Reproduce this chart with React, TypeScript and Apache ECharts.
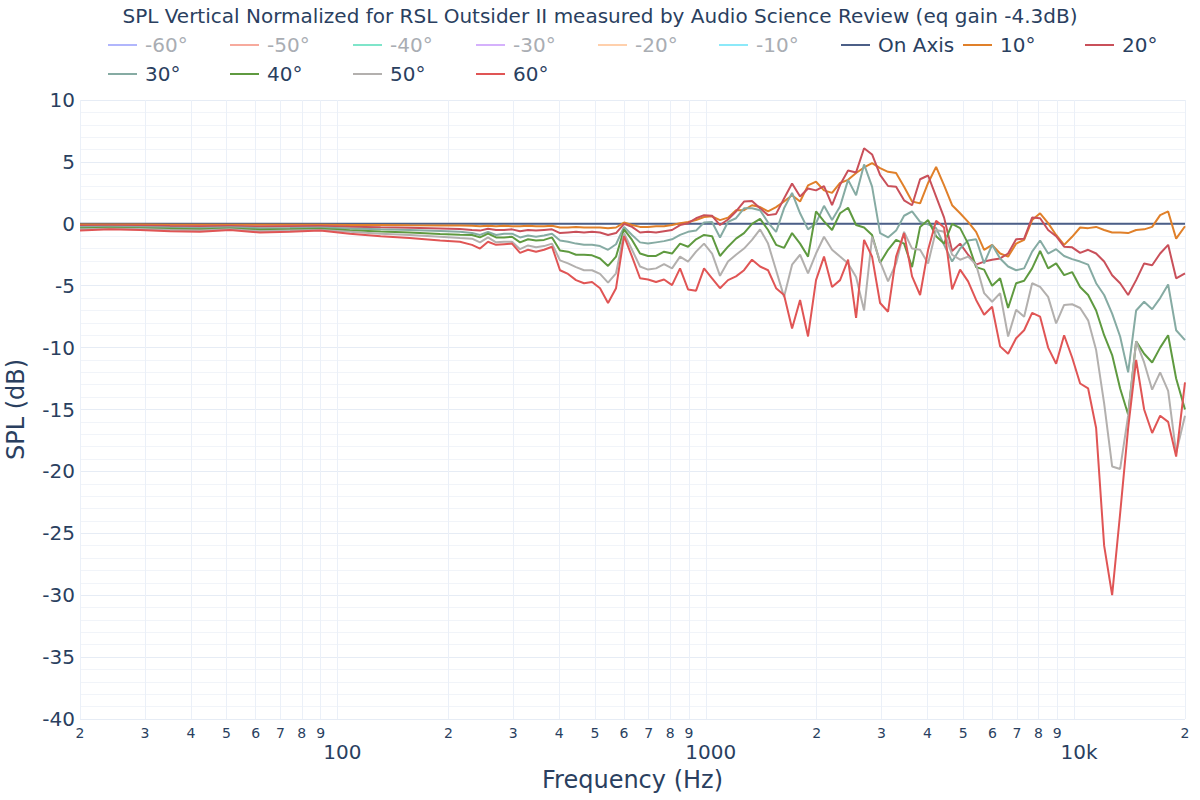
import React, { useEffect, useRef } from "react";
import * as echarts from "echarts";

const FONT = '"DejaVu Sans", Verdana, sans-serif';
const TEXT = "#2a3f5f";

const TITLE = "SPL Vertical Normalized for RSL Outsider II measured by Audio Science Review (eq gain -4.3dB)";

const FREQ = [
  20, 24.1, 29.1, 35.1, 42.3, 51.1, 61.6, 74.3, 89.7, 108, 131, 157, 190, 215,
  231.9, 243.8, 256.3, 269.5, 283.3, 297.8, 313.1, 329.2, 346.0, 363.8,
  382.4, 402.0, 422.7, 444.3, 467.1, 491.1, 516.3, 542.8, 570.6, 599.9,
  630.6, 663.0, 697.0, 732.7, 770.3, 809.8, 851.4, 895.1, 941.0, 989.2,
  1040, 1093, 1149, 1208, 1270, 1335, 1404, 1476, 1552, 1631,
  1715, 1803, 1895, 1992, 2094, 2202, 2315, 2434, 2559, 2690,
  2828, 2973, 3125, 3286, 3454, 3631, 3818, 4014, 4220, 4436,
  4664, 4903, 5154, 5419, 5697, 5989, 6296, 6619, 6959, 7316,
  7691, 8085, 8500, 8936, 9394, 9876, 10383, 10915, 11475, 12064,
  12683, 13333, 14017, 14736, 15492, 16287, 17122, 18000, 18923, 20000,
];

const ON_AXIS_FREQ = [20, 20000];
const ON_AXIS = [0, 0];

const SPL_10 = [
  -0.05, -0.05, -0.06, -0.07, -0.08, -0.07, -0.08, -0.08, -0.07, -0.09, -0.1, -0.12, -0.13, -0.14,
  -0.15, -0.2, -0.15, -0.2, -0.15, -0.2, -0.2, -0.15, -0.2, -0.2,
  -0.15, -0.3, -0.3, -0.25, -0.3, -0.3, -0.3, -0.35, -0.3, 0.1,
  -0.1, -0.25, -0.25, -0.2, -0.2, -0.1, 0.05, 0.15, 0.3, 0.55,
  0.6, 0.3, 0.5, 1.1, 1.1, 1.5, 1.35, 1.0, 1.35, 1.8,
  2.3, 1.8, 3.1, 3.4, 2.7, 2.5, 3.3, 3.55, 4.1, 4.55,
  4.9, 4.5, 4.2, 4.1, 3.0, 1.8, 1.65, 3.3, 4.6, 3.1,
  1.5, 0.85, 0.15, -0.65, -2.1, -1.7, -2.4, -2.65, -1.6, -1.3,
  0.3, 0.85, 0.05, -0.9, -1.7, -1.05, -0.3, -0.35, -0.25, -0.5,
  -0.7, -0.7, -0.75, -0.5, -0.45, -0.25, 0.7, 1.0, -1.2, -0.2,
];

const SPL_20 = [
  -0.15, -0.14, -0.15, -0.18, -0.2, -0.17, -0.22, -0.2, -0.18, -0.23, -0.28, -0.32, -0.38, -0.42,
  -0.5, -0.55, -0.4, -0.5, -0.5, -0.45, -0.6, -0.5, -0.55, -0.5,
  -0.45, -0.75, -0.7, -0.65, -0.7, -0.65, -0.7, -0.9, -0.75, 0.0,
  -0.25, -0.7, -0.65, -0.7, -0.6, -0.5, -0.1, 0.05, 0.45, 0.7,
  0.65, -0.1, 0.35, 1.0, 1.8, 1.85, 1.25, 0.7, 0.8, 2.05,
  3.25, 2.2, 2.85, 2.7, 3.05, 1.5, 3.15, 4.3, 4.15, 6.1,
  5.6, 3.95, 3.05, 3.0, 1.9, 1.5, 3.6, 3.9, 2.2, 0.5,
  -2.2, -1.6, -2.5, -3.3, -3.05, -2.9, -2.8, -2.4, -1.25, -1.2,
  0.5, 0.45, -0.5, -1.0, -1.85, -1.9, -2.35, -2.1, -2.4, -3.05,
  -4.15, -4.8, -5.75, -4.55, -3.2, -3.35, -2.4, -1.7, -4.4, -4.0,
];

const SPL_30 = [
  -0.25, -0.23, -0.25, -0.3, -0.33, -0.28, -0.35, -0.33, -0.3, -0.38, -0.45, -0.5, -0.58, -0.65,
  -0.75, -0.9, -0.65, -0.9, -0.8, -0.8, -1.1, -0.95, -1.05, -0.95,
  -0.8, -1.35, -1.45, -1.6, -1.7, -1.7, -1.8, -2.1, -1.65, -0.25,
  -0.9, -1.5, -1.6, -1.5, -1.4, -1.25, -0.9, -0.65, -0.55, 0.1,
  0.15, -1.1, 0.15, 0.45, 1.25, 1.25, 1.1, 0.1, -0.65, 1.25,
  2.5, 0.85, -0.45, 0.05, 1.45, 0.3, 1.4, 3.55, 2.3, 4.8,
  3.0, -0.75, -1.1, -0.55, 0.65, 1.0, 0.15, -0.05, -0.35, -1.7,
  -3.05, -2.0, -1.35, -1.25, -3.2, -1.7, -2.8, -3.45, -3.75, -3.6,
  -2.25, -1.35, -2.4, -2.05, -2.6, -2.85, -3.05, -3.3, -4.8, -5.75,
  -7.25, -9.1, -12.0, -7.0, -6.3, -6.9, -6.0, -4.9, -8.6, -9.4,
];

const SPL_40 = [
  -0.35, -0.32, -0.35, -0.4, -0.45, -0.38, -0.48, -0.45, -0.4, -0.52, -0.62, -0.7, -0.82, -0.88,
  -0.9, -1.1, -0.8, -1.1, -1.1, -1.05, -1.5, -1.25, -1.35, -1.3,
  -1.1, -2.15, -2.25, -2.5, -2.5, -2.55, -2.8, -3.4, -2.65, -0.45,
  -1.3, -2.4, -2.6, -2.6, -2.25, -2.4, -1.6, -1.85, -1.25, -0.9,
  -1.0, -2.6, -1.85, -1.2, -0.75, 0.0, 0.4, -0.5, -1.7, -1.95,
  -0.75, -1.6, -2.65, 1.0, 0.2, -0.5, 0.85, 1.3, -0.1, -0.3,
  -0.9, -3.15, -2.1, -1.3, -1.6, -3.5, -0.25, 0.3, -1.0, -1.6,
  0.0, -0.35, -1.6, -3.5, -3.7, -5.0, -4.4, -6.8, -4.8, -4.6,
  -3.6, -2.2, -3.6, -3.2, -4.15, -3.9, -5.1, -5.75, -7.0, -9.0,
  -10.6, -13.3, -15.4, -9.5, -10.5, -11.2, -10.0, -9.0, -12.5, -15.0,
];

const SPL_50 = [
  -0.45, -0.4, -0.42, -0.5, -0.55, -0.45, -0.6, -0.55, -0.5, -0.65, -0.8, -0.9, -1.05, -1.15,
  -1.2, -1.5, -1.1, -1.5, -1.45, -1.45, -2.05, -1.75, -1.9, -1.8,
  -1.6, -2.95, -3.2, -3.5, -3.75, -3.75, -4.05, -4.75, -4.0, -0.75,
  -2.1, -3.45, -3.7, -3.6, -3.25, -3.6, -2.65, -3.05, -2.25, -1.6,
  -2.4, -4.2, -3.05, -2.5, -2.0, -1.3, -0.45, -1.6, -3.75, -5.9,
  -3.3, -2.5, -4.0, -2.4, -1.05, -2.1, -2.65, -3.2, -4.3, -7.0,
  -1.05, -3.05, -4.65, -3.2, -0.65, -2.0, -2.1, -3.2, -0.5, -0.65,
  -2.5, -2.9, -2.65, -3.3, -5.6, -6.3, -5.6, -9.1, -6.95, -7.5,
  -4.8, -5.1, -5.9, -8.05, -6.55, -6.5, -6.8, -7.8, -10.2, -14.5,
  -19.6, -19.8, -15.5, -9.5, -11.2, -13.4, -12.0, -13.5, -18.5, -15.5,
];

const SPL_60 = [
  -0.55, -0.45, -0.5, -0.6, -0.65, -0.5, -0.7, -0.65, -0.55, -0.8, -1.0, -1.15, -1.35, -1.45,
  -1.7, -2.0, -1.45, -1.7, -1.65, -1.6, -2.35, -2.1, -2.25, -2.1,
  -1.85, -3.75, -4.05, -4.55, -4.8, -4.7, -5.2, -6.4, -5.2, -1.0,
  -2.65, -4.4, -4.5, -4.7, -4.5, -4.95, -3.6, -5.3, -5.4, -3.6,
  -4.4, -5.2, -4.55, -4.25, -3.75, -2.9, -3.45, -3.75, -5.2, -5.75,
  -8.45, -6.15, -9.1, -4.55, -2.65, -5.1, -4.55, -2.9, -7.6, -1.3,
  -2.65, -6.4, -7.1, -2.65, -0.75, -4.25, -5.75, -2.1, 0.25, -0.3,
  -5.3, -3.7, -4.65, -6.15, -7.35, -6.7, -9.9, -10.5, -9.25, -8.6,
  -7.2, -7.5, -10.0, -11.3, -9.0, -10.8, -12.9, -13.3, -16.5, -26.0,
  -30.0, -23.4, -16.5, -11.0, -15.0, -16.9, -15.5, -16.0, -18.8, -12.8,
];

const HIDDEN_NAMES = ["-60°", "-50°", "-40°", "-30°", "-20°", "-10°"];
const HIDDEN_COLORS = ["#b1b6fc", "#f7aa9d", "#7fe5ca", "#d5b1fc", "#ffd0ac", "#8ce9f9"];

const VISIBLE_NAMES = ["On Axis", "10°", "20°", "30°", "40°", "50°", "60°"];
const VISIBLE_COLORS = ["#4c5f87", "#e0802a", "#c9505a", "#86aba3", "#5f9a40", "#b3b0ae", "#e05555"];
const VISIBLE_VALUES = [ON_AXIS, SPL_10, SPL_20, SPL_30, SPL_40, SPL_50, SPL_60];

const LEGEND_ROWS = [
  [...HIDDEN_NAMES, "On Axis", "10°", "20°"],
  ["30°", "40°", "50°", "60°"],
];

const X_MINOR_TICKS = [
  20, 30, 40, 50, 60, 70, 80, 90,
  100, 200, 300, 400, 500, 600, 700, 800, 900,
  1000, 2000, 3000, 4000, 5000, 6000, 7000, 8000, 9000,
  10000, 20000,
];
const X_MAJOR_TICKS = [100, 1000, 10000];
const X_MAJOR_LABELS: Record<number, string> = { 100: "100", 1000: "1000", 10000: "10k" };

const Y_MIN = -40;
const Y_MAX = 10;
const Y_STEP = 5;

function minorLabel(v: number): string {
  const p = Math.floor(Math.log10(v) + 1e-9);
  const m = Math.round(v / Math.pow(10, p));
  if (m === 1) return "";
  return String(m);
}

function majorLabel(v: number): string {
  return X_MAJOR_LABELS[Math.round(v)] || "";
}

export default function App() {
  const ref = useRef<HTMLDivElement>(null);

  useEffect(() => {
    if (!ref.current) return;
    const chart = echarts.init(ref.current, undefined, { renderer: "svg" });

    const hiddenSeries = HIDDEN_NAMES.map((name, i) => ({
      name,
      type: "line",
      data: [] as number[][],
      symbol: "none",
      color: HIDDEN_COLORS[i],
      itemStyle: { color: HIDDEN_COLORS[i] },
      lineStyle: { width: 2, color: HIDDEN_COLORS[i] },
    }));

    const visibleSeries = VISIBLE_NAMES.map((name, i) => {
      const xs = i === 0 ? ON_AXIS_FREQ : FREQ;
      const ys = VISIBLE_VALUES[i];
      return {
        name,
        type: "line",
        data: xs.map((f, j) => [f, ys[j]]),
        symbol: "none",
        color: VISIBLE_COLORS[i],
        itemStyle: { color: VISIBLE_COLORS[i] },
        lineStyle: { width: 2, color: VISIBLE_COLORS[i] },
        silent: true,
      };
    });

    const COL_LEFT = [108, 230, 353, 476, 598, 719, 841, 963, 1085];
    const ROW_TOP = [33, 62];
    const legends: any[] = [];
    LEGEND_ROWS.forEach((row, r) => {
      row.forEach((name, c) => {
        const hidden = HIDDEN_NAMES.includes(name);
        legends.push({
          left: COL_LEFT[c],
          top: ROW_TOP[r],
          padding: 0,
          icon: "rect",
          itemWidth: 29,
          itemHeight: 2,
          selectedMode: false,
          textStyle: {
            fontFamily: FONT,
            fontSize: 20,
            lineHeight: 24,
            color: hidden ? "#a9adb3" : TEXT,
            padding: [0, 0, 0, 3],
          },
          data: [{ name }],
        });
      });
    });

    chart.setOption({
      animation: false,
      backgroundColor: "#ffffff",
      textStyle: { fontFamily: FONT },
      title: {
        text: TITLE,
        left: "center",
        top: 4,
        padding: 0,
        textStyle: { fontFamily: FONT, fontSize: 20, lineHeight: 24, fontWeight: "normal", color: TEXT },
      },
      legend: legends,
      grid: { left: 80, right: 15, top: 100, bottom: 81, containLabel: false, outerBoundsMode: "none" },
      xAxis: [
        {
          type: "log",
          logBase: 10,
          min: 20,
          max: 20000,
          axisLine: { show: false },
          axisTick: { show: false, customValues: X_MINOR_TICKS },
          axisLabel: {
            customValues: X_MINOR_TICKS,
            formatter: (v: number) => minorLabel(v),
            fontFamily: FONT,
            fontSize: 14,
            lineHeight: 15,
            color: TEXT,
            margin: 6,
            hideOverlap: false,
          },
          splitLine: { show: true, lineStyle: { color: "#ebf0f8", width: 1 } },
          name: "Frequency (Hz)",
          nameLocation: "middle",
          nameGap: 49,
          nameTextStyle: { fontFamily: FONT, fontSize: 24, color: TEXT },
        },
        {
          type: "log",
          logBase: 10,
          min: 20,
          max: 20000,
          position: "bottom",
          axisLine: { show: false },
          axisTick: { show: false, customValues: X_MAJOR_TICKS },
          axisLabel: {
            customValues: X_MAJOR_TICKS,
            formatter: (v: number) => majorLabel(v),
            fontFamily: FONT,
            fontSize: 20,
            lineHeight: 18,
            color: TEXT,
            margin: 24,
            padding: [0, 0, 0, 10],
            hideOverlap: false,
          },
          splitLine: { show: false },
        },
      ],
      yAxis: {
        type: "value",
        min: Y_MIN,
        max: Y_MAX,
        interval: Y_STEP,
        axisLine: { show: false },
        axisTick: { show: false },
        axisLabel: { fontFamily: FONT, fontSize: 20, color: TEXT, margin: 5 },
        splitLine: { show: true, lineStyle: { color: "#e6ecf5", width: 1 } },
        minorTick: { show: false, splitNumber: 5 },
        minorSplitLine: { show: true, lineStyle: { color: "#f1f4f9", width: 1 } },
        name: "SPL (dB)",
        nameLocation: "middle",
        nameGap: 52,
        nameTextStyle: { fontFamily: FONT, fontSize: 24, color: TEXT },
      },
      series: [...hiddenSeries, ...visibleSeries],
    });

    return () => chart.dispose();
  }, []);

  return (
    <div
      ref={ref}
      style={{ position: "fixed", left: 0, top: 0, width: 1200, height: 800, background: "#fff" }}
    />
  );
}
